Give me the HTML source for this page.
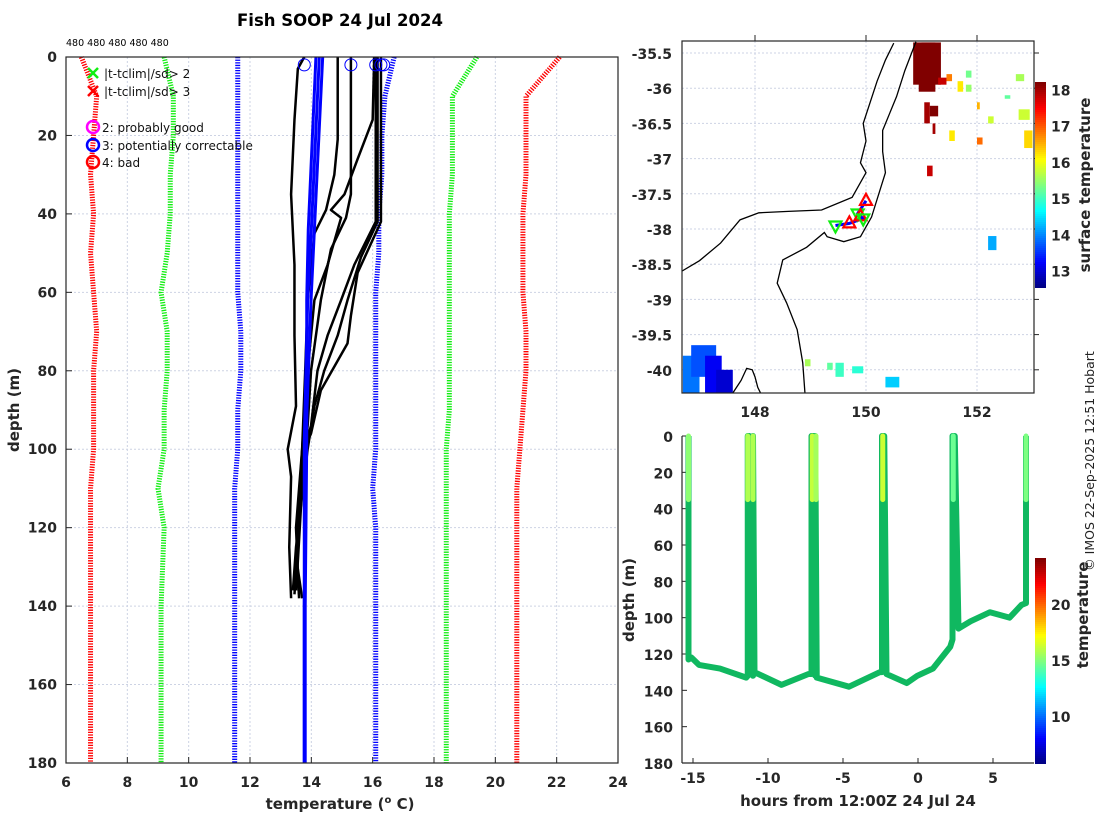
<!DOCTYPE html>
<html><head><meta charset="utf-8"><style>
body{margin:0;background:#fff;}
svg{display:block;font-family:"DejaVu Sans","Liberation Sans",sans-serif;}
.tk{font-size:14px;font-weight:bold;fill:#262626;}
.lb{font-size:15px;font-weight:bold;fill:#262626;}
</style></head><body>
<svg id="fig" width="1100" height="820" viewBox="0 0 1100 820">
<rect width="1100" height="820" fill="#fff"/>
<g id="left"></g>
<g id="map"></g>
<g id="track"></g>
<text x="340" y="26" text-anchor="middle" font-size="16.5" font-weight="bold" fill="#000">Fish SOOP 24 Jul 2024</text>
<text x="66" y="46" font-size="9.5" fill="#000">480 480 480 480 480</text>
<text transform="translate(1094,461) rotate(-90)" text-anchor="middle" font-size="12.5" fill="#222">© IMOS 22-Sep-2025 12:51 Hobart</text>
</svg>
<script>
// ---------- LEFT CHART DATA ----------
const tTicks=[6,8,10,12,14,16,18,20,22,24];
const dTicks=[0,20,40,60,80,100,120,140,160,180];
const climDepth=[0,10,20,30,40,50,60,70,80,90,100,110,120,140,160,180];
const climRedLo=[6.5,7.0,6.9,6.8,6.9,6.8,6.9,7.0,6.9,6.9,6.9,6.8,6.8,6.8,6.8,6.8];
const climGreenLo=[9.2,9.5,9.5,9.4,9.4,9.3,9.1,9.3,9.3,9.2,9.2,9.0,9.2,9.1,9.1,9.1];
const climBlueLo=[11.6,11.6,11.6,11.6,11.6,11.6,11.6,11.7,11.7,11.6,11.6,11.5,11.5,11.5,11.5,11.5];
const climBlueHi=[16.7,16.4,16.3,16.3,16.2,16.2,16.1,16.1,16.1,16.1,16.1,16.0,16.1,16.1,16.1,16.1];
const climGreenHi=[19.4,18.6,18.6,18.6,18.5,18.5,18.5,18.5,18.5,18.5,18.4,18.4,18.4,18.4,18.4,18.4];
const climRedHi=[22.1,21.0,21.0,21.0,20.9,20.9,20.9,21.0,21.0,20.9,20.8,20.7,20.7,20.7,20.7,20.7];
const profDepths=[
 [0,3,16,35,53,71,89,100,107,125,138],
 [0,35,41,49,62,80,94,103,115,130,137],
 [0,21,30,39,45,62,80,100,120,136],
 [0,16,26,35,39,41,53,62,80,100,120,138],
 [0,42,53,62,71,80,94,100,120,137],
 [0,42,51,62,71,80,89,100,125,136],
 [0,42,55,66,73,85,96,100,130,138]
];
const profTemps=[
 [13.77,13.56,13.45,13.34,13.45,13.45,13.5,13.23,13.34,13.28,13.34],
 [15.29,15.29,15.13,14.64,14.31,13.99,13.88,13.77,13.6,13.5,13.6],
 [14.86,14.86,14.75,14.48,14.1,13.88,13.8,13.7,13.55,13.5],
 [16.05,16.0,15.51,15.08,14.64,14.97,14.53,14.1,13.88,13.7,13.5,13.6],
 [16.1,16.1,15.40,14.97,14.53,14.2,13.99,13.77,13.6,13.45],
 [16.16,16.16,15.62,15.18,14.86,14.42,14.1,13.88,13.5,13.4],
 [16.27,16.27,15.51,15.29,15.18,14.31,13.99,13.77,13.55,13.7]
];
const blueDepth=[0,44,62,98,140,180];
const blueTemps=[[14.37,14.1,13.99,13.82,13.77,13.77],[14.26,14.0,13.88,13.77,13.77,13.77],[14.15,13.9,13.85,13.85,13.8,13.8]];
const flagTemps=[13.77,15.29,16.1,16.27,16.36];

// ---------- MAP DATA ----------
const latTicks=[-35.5,-36,-36.5,-37,-37.5,-38,-38.5,-39,-39.5,-40];
const lonTicks=[148,150,152];
const coastLon=[146.68,147.0,147.38,147.73,148.07,148.6,149.2,149.75,150.0,149.9,150.0,149.95,150.2,150.35,150.5];
const coastLat=[-38.6,-38.45,-38.2,-37.87,-37.77,-37.75,-37.73,-37.55,-37.2,-37.06,-36.75,-36.5,-35.9,-35.6,-35.36];
const shelfLon=[150.9,150.7,150.55,150.3,150.3,150.35,150.1,149.9,149.6,149.3,149.25,148.93,148.5,148.4,148.57,148.76,148.86,148.9];
const shelfLat=[-35.34,-35.75,-36.12,-36.6,-36.9,-37.2,-37.83,-38.11,-38.18,-38.11,-38.05,-38.26,-38.44,-38.77,-39.05,-39.43,-39.9,-40.33];
const tasLon=[147.6,147.75,147.85,147.95,148.0,148.05,148.1];
const tasLat=[-40.33,-40.15,-39.98,-40.0,-40.1,-40.25,-40.33];
const sstLon0=[150.85,151.0,150.95,151.05,151.15,151.2,151.3,151.45,151.65,151.8,152.0,152.2,152.5,152.7,152.75,152.85,146.7,146.85,147.1,147.3,148.9,149.3,149.45,149.75,150.35,152.2,151.1,152.0,151.8,151.5];
const sstLat0=[-35.35,-35.35,-35.9,-36.2,-36.25,-36.5,-35.85,-35.8,-35.9,-35.95,-36.2,-36.4,-36.1,-35.8,-36.3,-36.6,-39.8,-39.65,-39.8,-40.0,-39.85,-39.9,-39.9,-39.95,-40.1,-38.1,-37.1,-36.7,-35.75,-36.6];
const sstLon1=[151.35,151.25,151.25,151.15,151.3,151.25,151.45,151.55,151.75,151.9,152.05,152.3,152.6,152.85,152.95,153.0,147.0,147.3,147.4,147.6,149.0,149.4,149.6,149.95,150.6,152.35,151.2,152.1,151.9,151.6];
const sstLat1=[-35.95,-35.5,-36.05,-36.5,-36.4,-36.65,-35.95,-35.9,-36.05,-36.05,-36.3,-36.5,-36.15,-35.9,-36.45,-36.85,-40.33,-40.1,-40.33,-40.33,-39.95,-40.0,-40.1,-40.05,-40.25,-38.3,-37.25,-36.8,-35.85,-36.75];
const sstVal=[18.2,18.2,18.2,18.0,18.2,18.0,17.8,16.8,16.2,15.5,16.5,15.8,15.2,15.6,15.8,16.3,13.9,13.7,13.2,13.0,15.6,15.2,15.0,14.9,14.4,14.2,17.8,16.9,15.3,16.2];
const stnLon=[150.0,149.85,149.9,149.95,149.7,149.45];
const stnLat=[-37.6,-37.78,-37.82,-37.85,-37.92,-37.95];
const cbTicks1=[13,14,15,16,17,18];

// ---------- TRACK DATA ----------
const trHours=[-15.3,-15.3,-15.1,-14.6,-13.2,-11.45,-11.35,-11.35,-11.25,-11.0,-11.0,-10.9,-9.1,-7.3,-7.1,-7.1,-6.95,-6.85,-6.85,-6.75,-4.6,-2.55,-2.4,-2.4,-2.25,-2.1,-0.75,-0.05,1.0,2.15,2.3,2.3,2.45,2.7,3.5,4.8,6.1,6.9,7.2,7.2];
const trDepth=[0,123,122,126,128,133,132,0,0,132,0,130,137,131,131,0,0,132,0,133,138,130,130,0,0,131,136,132,128,116,112,0,0,106,102,97,100,93,92,0];
const castHours=[-15.3,-11.35,-11.0,-7.05,-6.8,-2.35,2.35,7.2];
const castTopTemp=[15.2,15.8,15.8,16.2,15.6,16.3,14.6,14.9];
const dCbTicks=[10,15,20];
const trXTicks=[-15,-10,-5,0,5];

// ---------- helpers ----------
const NS='http://www.w3.org/2000/svg';
function mk(tag,attrs,parent){const e=document.createElementNS(NS,tag);for(const k in attrs)e.setAttribute(k,attrs[k]);parent.appendChild(e);return e;}
function jet(v){v=Math.max(0,Math.min(1,v));
 const r=Math.max(0,Math.min(1,1.5-Math.abs(4*v-3))),g=Math.max(0,Math.min(1,1.5-Math.abs(4*v-2))),b=Math.max(0,Math.min(1,1.5-Math.abs(4*v-1)));
 return `rgb(${Math.round(r*255)},${Math.round(g*255)},${Math.round(b*255)})`;}
function gridLine(p,x1,y1,x2,y2){const l=mk('line',{x1,y1,x2,y2,stroke:'#cdd3e4','stroke-width':1,'stroke-dasharray':'2 2'},p);return l;}

// ---------- LEFT CHART ----------
(function(){
const g=document.getElementById('left');
const L=66,R=618,T=57,B=763;
const xs=t=>L+(t-6)/18*(R-L), ys=d=>T+d/180*(B-T);
tTicks.forEach(t=>{gridLine(g,xs(t),T,xs(t),B);
 const tx=mk('text',{x:xs(t),y:787,'text-anchor':'middle',class:'tk'},g);tx.textContent=t;
 
 mk('line',{x1:xs(t),y1:B,x2:xs(t),y2:B-6,stroke:'#262626'},g);});
dTicks.forEach(d=>{gridLine(g,L,ys(d),R,ys(d));
 const tx=mk('text',{x:57,y:ys(d)+5,'text-anchor':'end',class:'tk'},g);tx.textContent=d;
 
 mk('line',{x1:L,y1:ys(d),x2:L+6,y2:ys(d),stroke:'#262626'},g);});
const clims=[[climRedLo,'#f00'],[climGreenLo,'#1e1'],[climBlueLo,'#00f'],[climBlueHi,'#00f'],[climGreenHi,'#1e1'],[climRedHi,'#f00']];
clims.forEach(([arr,c],i)=>{const pts=arr.map((t,k)=>xs(t)+','+ys(climDepth[k])).join(' ');
 const p=mk('polyline',{points:pts,fill:'none',stroke:c,'stroke-width':5,'stroke-dasharray':'1.3 1.3'},g);
 });
profDepths.forEach((ds,i)=>{const pts=ds.map((d,k)=>xs(profTemps[i][k])+','+ys(d)).join(' ');
 const p=mk('polyline',{points:pts,fill:'none',stroke:'#000','stroke-width':2.5,'stroke-linejoin':'round'},g);
 });
blueTemps.forEach(ts=>{const pts=ts.map((t,k)=>xs(t)+','+ys(blueDepth[k])).join(' ');
 const p=mk('polyline',{points:pts,fill:'none',stroke:'#00f','stroke-width':3},g);
 });
flagTemps.forEach(t=>{const c=mk('circle',{cx:xs(t),cy:ys(2),r:6,fill:'none',stroke:'#00f','stroke-width':1},g);
 });
mk('rect',{x:L,y:T,width:R-L,height:B-T,fill:'none',stroke:'#262626','stroke-width':1.2},g);
const leg=mk('g',{},g);
const items=[['x','#1e1','|t-tclim|/sd> 2',73],['x','#f00','|t-tclim|/sd> 3',91],['o','#f0f','2: probably good',127],['o','#00f','3: potentially correctable',145],['o','#f00','4: bad',162]];
items.forEach(([m,c,txt,y])=>{
 if(m==='x'){mk('path',{d:`M88 ${y-5}L98 ${y+5}M98 ${y-5}L88 ${y+5}`,stroke:c,'stroke-width':2.5},leg);}
 else mk('circle',{cx:93,cy:y,r:6,fill:'none',stroke:c,'stroke-width':2.5},leg);
 const t=mk('text',{x:m==='x'?104:102,y:y+5,'font-size':12,fill:'#111'},leg);t.textContent=txt;
 });
const xl=mk('text',{x:340,y:809,'text-anchor':'middle',class:'lb'},g);xl.innerHTML='temperature (<tspan font-size="10" dy="-6">o</tspan><tspan dy="6"> C)</tspan>';

const yl=mk('text',{transform:'translate(19,410) rotate(-90)','text-anchor':'middle',class:'lb'},g);yl.textContent='depth (m)';

})();

// ---------- MAP ----------
(function(){
const g=document.getElementById('map');
const L=682,R=1034,T=41,B=393;
const xs=lo=>755+(lo-148)*55.5, ys=la=>53+(-35.5-la)*70.4;
const clip=mk('clipPath',{id:'mapclip'},g);mk('rect',{x:L,y:T,width:R-L,height:B-T},clip);
const inner=mk('g',{'clip-path':'url(#mapclip)'},g);
lonTicks.forEach(lo=>{gridLine(inner,xs(lo),T,xs(lo),B);
 const t=mk('text',{x:xs(lo),y:417,'text-anchor':'middle',class:'tk'},g);t.textContent=lo;
 
 mk('line',{x1:xs(lo),y1:T-6,x2:xs(lo),y2:T,stroke:'#262626'},g);});
latTicks.forEach(la=>{gridLine(inner,L,ys(la),R,ys(la));
 const t=mk('text',{x:672,y:ys(la)+6,'text-anchor':'end',class:'tk','font-size':15},g);t.textContent=la;
 
 mk('line',{x1:R,y1:ys(la),x2:R+5,y2:ys(la),stroke:'#262626'},g);});
const cmin=12.55,cmax=18.2;
sstVal.forEach((v,i)=>{const x0=xs(sstLon0[i]),x1=xs(sstLon1[i]),y0=ys(sstLat0[i]),y1=ys(sstLat1[i]);
 const r=mk('rect',{x:Math.min(x0,x1),y:Math.min(y0,y1),width:Math.abs(x1-x0),height:Math.abs(y1-y0),fill:jet((v-cmin)/(cmax-cmin))},inner);
 });
const lines=[[coastLon,coastLat,'coastline'],[shelfLon,shelfLat,'shelf-contour'],[tasLon,tasLat,'tasmania-coast']];
lines.forEach(([lo,la,n])=>{const p=mk('polyline',{points:lo.map((v,k)=>xs(v)+','+ys(la[k])).join(' '),fill:'none',stroke:'#000','stroke-width':1.3},inner);
 });
mk('polyline',{points:stnLon.map((v,k)=>xs(v)+','+ys(stnLat[k])).join(' '),fill:'none',stroke:'#00f','stroke-width':3},inner);
stnLon.forEach((lo,i)=>{const x=xs(lo),y=ys(stnLat[i]);
 const up=i%2===0;
 const p=mk('path',{d:up?`M${x} ${y-7}L${x+6} ${y+4}L${x-6} ${y+4}Z`:`M${x-6} ${y-4}L${x+6} ${y-4}L${x} ${y+7}Z`,fill:'none',stroke:up?'#f00':'#1e1','stroke-width':2.2},inner);
 });
mk('rect',{x:L,y:T,width:R-L,height:B-T,fill:'none',stroke:'#262626','stroke-width':1.2},g);
const cT=82,cB=287,cs=v=>cT+(cmax-v)/(cmax-cmin)*(cB-cT);
for(let y=cT;y<cB;y+=2){mk('rect',{x:1035,y:y,width:11,height:2,fill:jet(1-(y-cT)/(cB-cT))},g);}
cbTicks1.forEach(v=>{const t=mk('text',{x:1051,y:cs(v)+6,class:'tk'},g);t.textContent=v;
 });
const cl=mk('text',{transform:'translate(1090,185) rotate(-90)','text-anchor':'middle',class:'lb'},g);cl.textContent='surface temperature';

})();

// ---------- TRACK ----------
(function(){
const g=document.getElementById('track');
const L=682,R=1034,T=436,B=763;
const xs=h=>918+h*15, ys=d=>T+d/180*(B-T);
const cmin=5.8,cmax=24.1;
mk('line',{x1:L,y1:T,x2:L,y2:B,stroke:'#262626','stroke-width':1.2},g);
mk('line',{x1:L,y1:B,x2:R,y2:B,stroke:'#262626','stroke-width':1.2},g);
dTicks.forEach(d=>{const t=mk('text',{x:673,y:ys(d)+6,'text-anchor':'end',class:'tk','font-size':15},g);t.textContent=d;
 
 mk('line',{x1:L,y1:ys(d),x2:L+5,y2:ys(d),stroke:'#262626'},g);});
trXTicks.forEach(h=>{const t=mk('text',{x:xs(h),y:783,'text-anchor':'middle',class:'tk','font-size':15},g);t.textContent=h;
 
 mk('line',{x1:xs(h),y1:B,x2:xs(h),y2:B-5,stroke:'#262626'},g);});
const p=mk('polyline',{points:trHours.map((h,k)=>xs(h)+','+ys(trDepth[k])).join(' '),fill:'none',stroke:'#10b860','stroke-width':6,'stroke-linejoin':'round'},g);

castHours.forEach((h,i)=>{const c=jet((castTopTemp[i]-cmin)/(cmax-cmin));
 const s=mk('line',{x1:xs(h),y1:ys(0),x2:xs(h),y2:ys(35),stroke:c,'stroke-width':5,'stroke-linecap':'round'},g);
 });
const cT=558,cB=763,cs=v=>cT+(cmax-v)/(cmax-cmin)*(cB-cT);
for(let y=cT;y<cB;y+=2){mk('rect',{x:1035,y:y,width:11,height:2,fill:jet(1-(y-cT)/(cB-cT))},g);}
dCbTicks.forEach(v=>{const t=mk('text',{x:1051,y:cs(v)+6,class:'tk'},g);t.textContent=v;
 });
const cl=mk('text',{transform:'translate(1088,615) rotate(-90)','text-anchor':'middle',class:'lb'},g);cl.textContent='temperature';

const xl=mk('text',{x:858,y:806,'text-anchor':'middle',class:'lb'},g);xl.textContent='hours from 12:00Z 24 Jul 24';

const yl=mk('text',{transform:'translate(634,600) rotate(-90)','text-anchor':'middle',class:'lb'},g);yl.textContent='depth (m)';

})();
</script>
</body></html>
